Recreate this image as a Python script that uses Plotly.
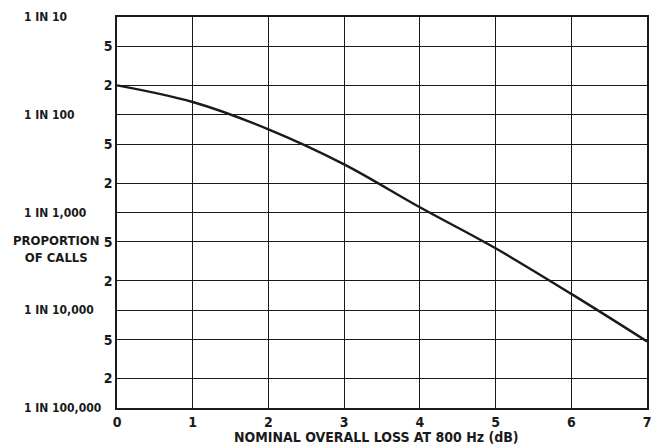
import math
import plotly.graph_objects as go

# Curve (x = nominal overall loss in dB, y = proportion of calls)
loss_db = [0, 1, 2, 3, 4, 5, 6, 7]
proportion = [0.0200, 0.0135, 0.0071, 0.00311, 0.00113, 0.000430, 0.000147, 0.000048]

x_ticks = [0, 1, 2, 3, 4, 5, 6, 7]
y_grid = [1e-5, 2e-5, 5e-5, 1e-4, 2e-4, 5e-4, 1e-3, 2e-3, 5e-3, 1e-2, 2e-2, 5e-2, 1e-1]
y_grid_text = ["", "2", "5", "", "2", "5", "", "2", "5", "", "2", "5", ""]
decade_vals = [1e-1, 1e-2, 1e-3, 1e-4, 1e-5]
decade_text = ["1 IN 10", "1 IN 100", "1 IN 1,000", "1 IN 10,000", "1 IN 100,000"]

FONT = "DejaVu Sans Condensed, DejaVu Sans, sans-serif"
INK = "#1a1a1a"

fig = go.Figure()
fig.add_trace(go.Scatter(
    x=loss_db, y=proportion, mode="lines",
    line=dict(color=INK, width=2.4, shape="spline", smoothing=1.0),
    showlegend=False, hoverinfo="skip",
))

W, H = 659, 445
L, R, T, B = 117, 12, 17, 37

fig.update_layout(
    width=W, height=H,
    margin=dict(l=L, r=R, t=T, b=B, autoexpand=False),
    paper_bgcolor="white", plot_bgcolor="white",
    font=dict(family=FONT, size=13, color=INK),
)
fig.update_xaxes(
    range=[0, 7], tickvals=x_ticks, ticktext=[str(v) for v in x_ticks],
    showgrid=True, gridcolor=INK, gridwidth=1.4,
    showline=True, linecolor=INK, linewidth=1.6, mirror=True,
    ticks="", zeroline=False, automargin=False,
    tickfont=dict(family=FONT, size=14, color=INK, weight="bold"),
)
fig.update_yaxes(
    type="log", range=[-5, -1], tickvals=y_grid, ticktext=y_grid_text,
    showgrid=True, gridcolor=INK, gridwidth=1.4,
    showline=True, linecolor=INK, linewidth=1.6, mirror=True,
    ticks="", zeroline=False, automargin=False,
    tickfont=dict(family=FONT, size=14, color=INK, weight="bold"),
)

pw = W - L - R
for v, t in zip(decade_vals, decade_text):
    fig.add_annotation(
        x=(22 - L) / pw, xref="paper", y=math.log10(v), yref="y",
        text=t, showarrow=False, xanchor="left", yanchor="middle",
        font=dict(family=FONT, size=12, color=INK, weight="bold"),
    )

fig.add_annotation(
    x=(56 - L) / pw, xref="paper", y=math.log10(4.2e-4), yref="y",
    text="PROPORTION<br>OF CALLS", showarrow=False, xanchor="center", yanchor="middle",
    align="center", font=dict(family=FONT, size=13, color=INK, weight="bold"),
)

fig.add_annotation(
    x=(376 - L) / pw, xref="paper", y=-(437 - (H - B)) / (H - T - B), yref="paper",
    text="NOMINAL OVERALL LOSS AT 800 Hz (dB)", showarrow=False,
    xanchor="center", yanchor="middle",
    font=dict(family=FONT, size=14, color=INK, weight="bold"),
)

fig.write_html("out.html", config={"displayModeBar": False},
               post_script="document.body.style.margin='0';")
